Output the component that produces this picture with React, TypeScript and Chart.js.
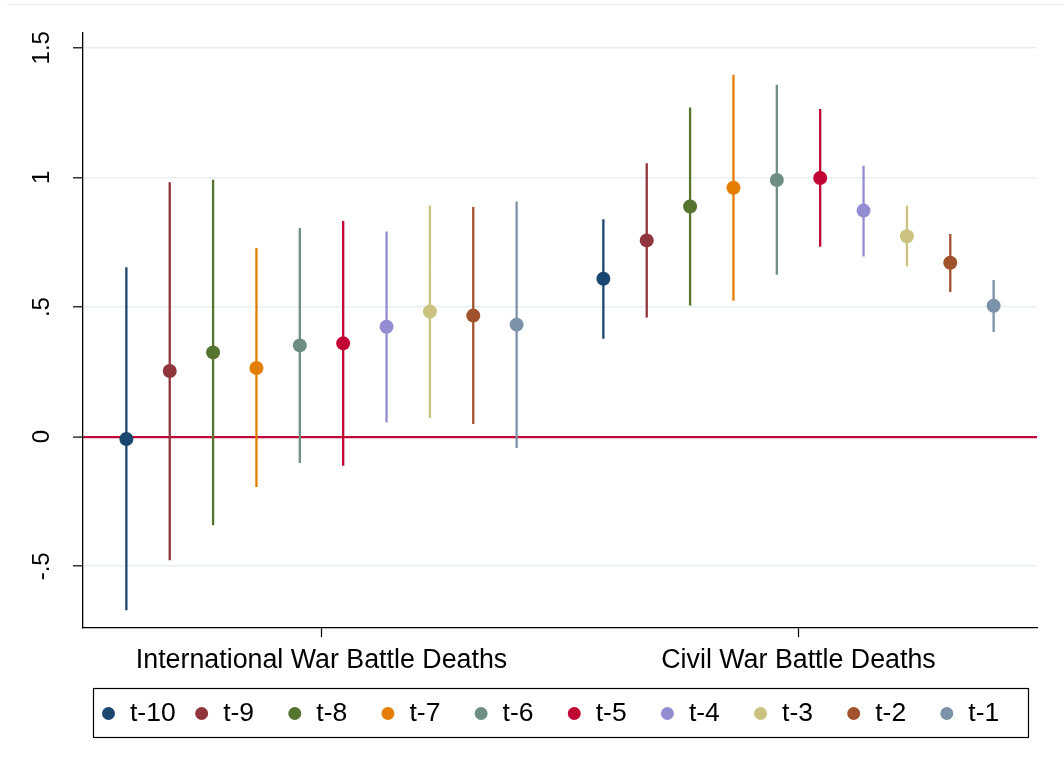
import React, { useEffect, useRef } from "react";
import { Chart, registerables } from "chart.js";

Chart.register(...registerables);

// ---------- data ----------
const GROUPS = ["International War Battle Deaths", "Civil War Battle Deaths"];
const SERIES = ["t-10", "t-9", "t-8", "t-7", "t-6", "t-5", "t-4", "t-3", "t-2", "t-1"];
const COLORS = [
  "#1a476f", "#90353b", "#55752f", "#e37e00", "#6e8e84",
  "#c10534", "#938dd2", "#cac27e", "#a0522d", "#7b92a8",
];

const INTL_COEF = [-0.009, 0.253, 0.325, 0.265, 0.352, 0.36, 0.424, 0.483, 0.467, 0.432];
const INTL_LO = [-0.67, -0.477, -0.342, -0.194, -0.102, -0.112, 0.055, 0.072, 0.049, -0.044];
const INTL_HI = [0.653, 0.981, 0.991, 0.728, 0.805, 0.832, 0.791, 0.892, 0.886, 0.907];

const CIVIL_COEF = [0.609, 0.757, 0.888, 0.96, 0.99, 0.998, 0.872, 0.773, 0.671, 0.505];
const CIVIL_LO = [0.378, 0.46, 0.506, 0.524, 0.625, 0.733, 0.695, 0.657, 0.558, 0.404];
const CIVIL_HI = [0.839, 1.055, 1.27, 1.396, 1.357, 1.264, 1.045, 0.891, 0.782, 0.604];

const Y_TICKS = [-0.5, 0, 0.5, 1, 1.5];
const Y_TICK_LABELS = ["-.5", "0", ".5", "1", "1.5"];

// ---------- helpers ----------
const FONT = '"Liberation Sans", Arial, Helvetica, sans-serif';
const SPACING = 1 / 11;
const offsetOf = (i: number) => (i - (SERIES.length - 1) / 2) * SPACING;

function buildDatasets() {
  const ds: any[] = [];
  SERIES.forEach((name, i) => {
    const x1 = 1 + offsetOf(i);
    const x2 = 2 + offsetOf(i);
    ds.push({
      label: name,
      isPoint: true,
      data: [
        { x: x1, y: INTL_COEF[i] },
        { x: x2, y: CIVIL_COEF[i] },
      ],
      showLine: false,
      pointRadius: 7,
      pointHoverRadius: 7,
      pointBorderWidth: 0,
      pointBackgroundColor: COLORS[i],
      pointBorderColor: COLORS[i],
      borderColor: COLORS[i],
      backgroundColor: COLORS[i],
      order: 0,
    });
  });
  SERIES.forEach((name, i) => {
    const x1 = 1 + offsetOf(i);
    const x2 = 2 + offsetOf(i);
    ds.push({
      label: name + " CI",
      isPoint: false,
      data: [
        { x: x1, y: INTL_LO[i] },
        { x: x1, y: INTL_HI[i] },
        { x: 1.5, y: null },
        { x: x2, y: CIVIL_LO[i] },
        { x: x2, y: CIVIL_HI[i] },
      ],
      showLine: true,
      spanGaps: false,
      pointRadius: 0,
      pointHoverRadius: 0,
      borderWidth: 2.3,
      borderColor: COLORS[i],
      backgroundColor: COLORS[i],
      fill: false,
      tension: 0,
      order: 1,
    });
  });
  return ds;
}

const topLinePlugin = {
  id: "topLine",
  beforeDraw(chart: any) {
    const ctx = chart.ctx;
    ctx.save();
    ctx.strokeStyle = "#e9f0f2";
    ctx.lineWidth = 1.5;
    ctx.beginPath();
    ctx.moveTo(7, 4.5);
    ctx.lineTo(chart.width, 4.5);
    ctx.stroke();
    ctx.restore();
  },
};

const boxLegendPlugin = {
  id: "boxLegend",
  afterDraw(chart: any) {
    const ctx = chart.ctx;
    const left = 93;
    const top = 688;
    const w = 935;
    const h = 49;
    ctx.save();
    ctx.strokeStyle = "#000";
    ctx.lineWidth = 1.2;
    ctx.strokeRect(left + 0.5, top + 0.5, w, h);
    const items = chart.data.datasets.filter((d: any) => d.isPoint);
    const cy = 713.5;
    ctx.font = `26.5px ${FONT}`;
    ctx.textBaseline = "middle";
    ctx.textAlign = "left";
    items.forEach((d: any, i: number) => {
      const mx = 108.5 + i * 93.15;
      ctx.fillStyle = d.pointBackgroundColor;
      ctx.beginPath();
      ctx.arc(mx, cy, 6.5, 0, Math.PI * 2);
      ctx.fill();
      ctx.fillStyle = "#000";
      ctx.fillText(d.label, mx + 21.5, cy + 0.5);
    });
    ctx.restore();
  },
};

export default function App() {
  const ref = useRef<HTMLCanvasElement | null>(null);

  useEffect(() => {
    if (!ref.current) return;
    const chart = new Chart(ref.current, {
      type: "line",
      data: { datasets: buildDatasets() },
      options: {
        responsive: false,
        animation: false,
        events: [],
        layout: {
          autoPadding: false,
          padding: { left: 0, top: 33, right: 27, bottom: 94 },
        },
        plugins: {
          legend: { display: false },
          tooltip: { enabled: false },
        },
        scales: {
          x: {
            type: "linear",
            min: 0.5,
            max: 2.5,
            afterBuildTicks: (scale: any) => {
              scale.ticks = GROUPS.map((_, i) => ({ value: i + 1 }));
            },
            afterFit: (scale: any) => {
              scale.height = 50;
            },
            ticks: {
              autoSkip: false,
              maxRotation: 0,
              minRotation: 0,
              padding: 8,
              color: "#000",
              font: { family: FONT, size: 26.8 },
              callback: (_v: any, idx: number) => GROUPS[idx],
            },
            grid: {
              display: true,
              drawOnChartArea: false,
              drawTicks: true,
              tickLength: 9,
              tickColor: "#000",
              tickWidth: 1.2,
            },
            border: { display: true, color: "#000", width: 1.3 },
          },
          y: {
            type: "linear",
            min: -0.738,
            max: 1.557,
            afterBuildTicks: (scale: any) => {
              scale.ticks = Y_TICKS.map((v) => ({ value: v }));
            },
            afterFit: (scale: any) => {
              scale.width = 83;
            },
            ticks: {
              autoSkip: false,
              minRotation: 90,
              maxRotation: 90,
              crossAlign: "center",
              padding: 14,
              color: "#000",
              font: { family: FONT, size: 24 },
              callback: (_v: any, idx: number) => Y_TICK_LABELS[idx],
            },
            grid: {
              display: true,
              drawOnChartArea: true,
              drawTicks: true,
              tickLength: 10,
              tickColor: "#000",
              tickWidth: 1.2,
              color: (ctx: any) => (ctx.tick && ctx.tick.value === 0 ? "#c10534" : "#e6eff1"),
              lineWidth: (ctx: any) => (ctx.tick && ctx.tick.value === 0 ? 2.2 : 1.6),
            },
            border: { display: true, color: "#000", width: 1.3 },
          },
        },
      } as any,
      plugins: [topLinePlugin, boxLegendPlugin],
    });
    return () => chart.destroy();
  }, []);

  return (
    <div style={{ position: "fixed", left: 0, top: 0, width: 1064, height: 772, background: "#fff" }}>
      <canvas ref={ref} width={1064} height={772} style={{ display: "block" }} />
    </div>
  );
}
